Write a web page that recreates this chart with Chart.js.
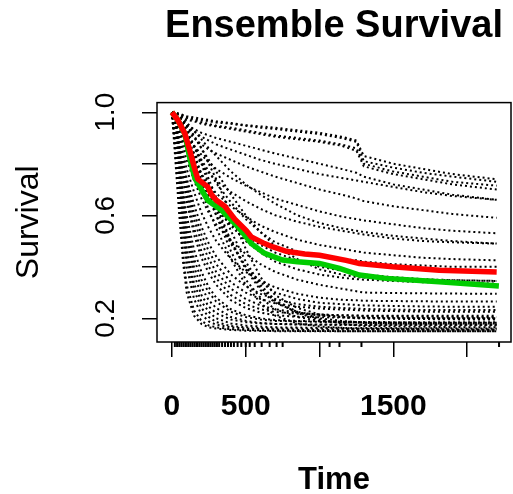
<!DOCTYPE html>
<html>
<head>
<meta charset="utf-8">
<script src="https://cdn.jsdelivr.net/npm/chart.js@4/dist/chart.umd.min.js"></script>
<style>
  html, body { margin: 0; padding: 0; background: #fff; }
  #wrap { width: 513px; height: 494px; }
</style>
</head>
<body>
<div id="wrap"><canvas id="survChart"></canvas></div>
<script>
// shared time grid for the ensemble curves
const times = [0, 25, 50, 75, 100, 150, 200, 250, 300, 400, 500, 600, 700, 850, 1000, 1150, 1250, 1300, 1500, 1700, 1900, 2200];

// individual ensemble members (dotted black)
const members = [
  [1, .995, .99, .985, .98, .975, .97, .965, .96, .955, .948, .94, .935, .925, .915, .90, .885, .81, .785, .765, .75, .73],
  [1, .99, .985, .98, .97, .965, .955, .95, .945, .935, .925, .915, .905, .895, .885, .87, .85, .79, .76, .74, .72, .70],
  [1, .99, .98, .965, .95, .935, .92, .91, .90, .885, .87, .855, .84, .82, .80, .78, .765, .75, .72, .70, .68, .66],
  [1, .985, .97, .95, .93, .90, .875, .855, .84, .815, .79, .77, .75, .725, .70, .68, .665, .655, .635, .62, .605, .59],
  [1, .98, .96, .935, .91, .87, .835, .805, .78, .745, .715, .69, .665, .64, .615, .595, .585, .58, .565, .55, .54, .53],
  [1, .975, .95, .92, .89, .84, .80, .765, .735, .69, .655, .625, .60, .575, .555, .54, .53, .525, .51, .50, .495, .49],
  [1, .97, .94, .905, .87, .81, .76, .72, .685, .635, .595, .56, .535, .505, .485, .47, .46, .455, .445, .435, .43, .425],
  [1, .965, .925, .885, .845, .775, .715, .665, .625, .565, .52, .485, .455, .425, .40, .385, .375, .37, .36, .352, .348, .345],
  [1, .96, .915, .865, .815, .735, .665, .61, .565, .50, .45, .41, .38, .35, .33, .315, .305, .30, .298, .297, .296, .295],
  [1, .955, .90, .84, .78, .69, .61, .55, .50, .43, .38, .345, .32, .295, .28, .272, .27, .268, .267, .266, .265, .265],
  [1, .95, .885, .815, .745, .64, .555, .49, .44, .37, .325, .295, .275, .255, .245, .24, .238, .236, .234, .232, .232, .232],
  [1, .94, .865, .785, .705, .585, .495, .43, .38, .315, .275, .25, .235, .222, .215, .211, .21, .209, .208, .207, .206, .205],
  [1, .93, .84, .745, .655, .525, .435, .375, .33, .27, .24, .222, .212, .206, .204, .203, .202, .202, .202, .201, .20, .20],
  [1, .92, .815, .70, .60, .465, .38, .32, .28, .235, .212, .20, .193, .19, .188, .187, .186, .186, .185, .185, .185, .185],
  [1, .905, .78, .65, .54, .40, .32, .27, .24, .205, .19, .182, .178, .176, .175, .174, .174, .174, .173, .173, .172, .172],
  [1, .885, .74, .59, .47, .335, .265, .225, .20, .18, .172, .168, .165, .164, .163, .163, .162, .162, .162, .161, .161, .16],
  [1, .86, .69, .52, .40, .275, .215, .188, .175, .165, .16, .157, .156, .155, .155, .154, .154, .154, .154, .153, .153, .153],
  [1, .83, .63, .45, .33, .23, .19, .172, .165, .158, .155, .153, .152, .151, .151, .15, .15, .15, .15, .15, .15, .15],
  [1, .99, .975, .955, .93, .87, .80, .72, .64, .50, .39, .31, .26, .225, .21, .205, .203, .202, .20, .20, .20, .20],
  [1, .985, .965, .94, .91, .84, .76, .68, .60, .46, .35, .28, .235, .205, .19, .185, .183, .182, .18, .18, .18, .18],
  [1, .98, .955, .925, .89, .815, .735, .665, .60, .49, .40, .34, .30, .275, .26, .255, .252, .25, .248, .246, .245, .245],
  [1, .99, .98, .965, .945, .905, .86, .815, .77, .68, .60, .535, .48, .43, .39, .37, .36, .358, .355, .35, .348, .345],
  [1, .975, .945, .91, .87, .78, .70, .62, .55, .43, .33, .26, .21, .18, .168, .163, .16, .16, .158, .158, .157, .157],
  [1, .995, .985, .975, .96, .93, .895, .86, .83, .77, .72, .68, .645, .60, .57, .55, .54, .535, .52, .51, .50, .49],
  [1, .80, .60, .42, .30, .21, .178, .165, .16, .155, .152, .151, .15, .15, .15, .15, .15, .15, .15, .15, .15, .15],
  [1, .87, .71, .56, .44, .31, .24, .205, .185, .17, .165, .162, .16, .16, .159, .159, .158, .158, .158, .157, .157, .157],
  [1, .895, .76, .62, .51, .37, .29, .245, .22, .195, .185, .18, .178, .177, .176, .176, .175, .175, .175, .175, .175, .175],
  [1, .91, .80, .68, .57, .43, .35, .30, .265, .225, .205, .195, .19, .188, .186, .185, .185, .184, .184, .183, .183, .183],
  [1, .935, .85, .76, .68, .55, .46, .40, .355, .29, .255, .235, .225, .218, .214, .212, .211, .21, .21, .21, .21, .21],
  [1, .945, .875, .80, .725, .61, .525, .46, .41, .34, .30, .275, .258, .245, .238, .234, .232, .23, .228, .226, .225, .225],
  [1, .97, .935, .895, .855, .785, .725, .675, .63, .56, .50, .455, .42, .39, .37, .358, .352, .35, .345, .34, .338, .335],
  [1, .98, .96, .94, .915, .865, .815, .77, .725, .65, .585, .535, .495, .46, .44, .43, .425, .42, .41, .405, .40, .40],
  [1, .998, .995, .99, .985, .98, .975, .97, .965, .958, .95, .945, .94, .93, .92, .905, .89, .83, .80, .78, .76, .74],
  [1, .995, .99, .985, .978, .97, .962, .955, .948, .94, .93, .92, .91, .90, .89, .875, .86, .80, .77, .75, .73, .715],
  [1, .99, .975, .96, .945, .925, .905, .89, .875, .855, .835, .815, .80, .78, .76, .745, .735, .73, .71, .69, .675, .66],
  [1, .995, .985, .97, .95, .91, .86, .80, .74, .60, .47, .36, .29, .24, .215, .205, .20, .20, .198, .197, .196, .195],
  [1, .99, .97, .95, .925, .87, .81, .74, .67, .54, .42, .33, .27, .225, .20, .19, .185, .183, .18, .178, .177, .176],
  [1, .985, .96, .93, .895, .83, .76, .69, .62, .50, .40, .32, .265, .22, .195, .18, .172, .17, .168, .167, .166, .165]
];

// ensemble summaries
const redTimes = [0, 40, 88, 122, 155, 176, 243, 268, 302, 358, 426, 505, 538, 628, 685, 775, 900, 1000, 1180, 1270, 1495, 1810, 2200];
const redValues = [1.0, 0.97, 0.917, 0.85, 0.78, 0.74, 0.71, 0.68, 0.658, 0.635, 0.585, 0.54, 0.516, 0.49, 0.477, 0.46, 0.45, 0.445, 0.425, 0.413, 0.40, 0.387, 0.38];
const greenTimes = [0, 40, 88, 122, 155, 200, 243, 335, 426, 470, 538, 628, 750, 850, 1000, 1135, 1270, 1450, 1810, 2215];
const greenValues = [1.0, 0.97, 0.915, 0.82, 0.745, 0.70, 0.658, 0.62, 0.568, 0.54, 0.49, 0.452, 0.426, 0.42, 0.413, 0.394, 0.368, 0.355, 0.342, 0.325];

// event times shown as a rug under the x axis
const rugTimes = [20, 35, 50, 65, 80, 95, 110, 125, 140, 155, 170, 185, 200, 215, 230, 245, 260, 275, 290, 305, 320, 340, 360, 380, 400, 420, 445, 470, 500, 527, 561, 608, 662, 709, 750, 1068, 1135, 1284, 2216];

const xTickValues = [0, 500, 1000, 1500, 2000];
const xTickLabels = ['0', '500', '', '1500', ''];
const yTickValues = [0.2, 0.4, 0.6, 0.8, 1.0];
const yTickLabels = ['0.2', '', '0.6', '', '1.0'];

const toPoints = (xs, ys) => xs.map((t, i) => ({x: t, y: ys[i]}));

const datasets = [
  {data: toPoints(redTimes, redValues), borderColor: '#ff0000', borderWidth: 5.5, order: 0},
  {data: toPoints(greenTimes, greenValues), borderColor: '#00cc00', borderWidth: 5.5, order: 0}
];
members.forEach(m => {
  datasets.push({data: toPoints(times, m), borderColor: '#000', borderWidth: 2, borderDash: [2, 3], order: 1});
});

const boxAndRug = {
  id: 'boxAndRug',
  afterDatasetsDraw(chart) {
    const {ctx, chartArea: a, scales: {x}} = chart;
    ctx.save();
    ctx.strokeStyle = '#000';
    ctx.lineWidth = 1.5;
    ctx.strokeRect(a.left, a.top, a.right - a.left, a.bottom - a.top);
    ctx.beginPath();
    ctx.lineWidth = 2;
    rugTimes.forEach(t => {
      const px = x.getPixelForValue(t);
      ctx.moveTo(px, a.bottom);
      ctx.lineTo(px, a.bottom + 5);
    });
    ctx.stroke();
    ctx.restore();
  }
};

const ctx = document.getElementById('survChart');

new Chart(ctx, {
  type: 'line',
  data: {datasets: datasets},
  plugins: [boxAndRug],
  options: {
    responsive: true,
    maintainAspectRatio: false,
    animation: false,
    events: [],
    elements: {point: {radius: 0}, line: {tension: 0, fill: false}},
    layout: {padding: {left: 0, right: 2, top: 0, bottom: 0}},
    plugins: {
      legend: {display: false},
      tooltip: {enabled: false},
      title: {
        display: true,
        fullSize: false,
        text: 'Ensemble Survival',
        color: '#000',
        font: {family: 'Liberation Sans', size: 38, weight: 'bold'},
        padding: {top: 4, bottom: 53}
      }
    },
    scales: {
      x: {
        type: 'linear',
        min: -101,
        max: 2297,
        afterBuildTicks: s => { s.ticks = xTickValues.map(v => ({value: v})); },
        afterFit: s => { s.height = 152; },
        grid: {drawOnChartArea: false, drawTicks: true, tickLength: 15, color: '#000', lineWidth: 1.5},
        border: {display: false},
        ticks: {
          autoSkip: false,
          maxRotation: 0,
          padding: 32,
          color: '#000',
          font: {family: 'Liberation Sans', size: 30, weight: 'bold'},
          callback: v => xTickLabels[xTickValues.indexOf(v)] ?? ''
        },
        title: {
          display: true,
          text: 'Time',
          color: '#000',
          font: {family: 'Liberation Sans', size: 31, weight: 'bold', lineHeight: 1},
          padding: {top: 0, bottom: -2}
        }
      },
      y: {
        type: 'linear',
        min: 0.108,
        max: 1.0375,
        afterBuildTicks: s => { s.ticks = yTickValues.map(v => ({value: v})); },
        afterFit: s => { s.width = 157; },
        grid: {drawOnChartArea: false, drawTicks: true, tickLength: 15, color: '#000', lineWidth: 1.5},
        border: {display: false},
        ticks: {
          autoSkip: false,
          minRotation: 90,
          maxRotation: 90,
          crossAlign: 'center',
          padding: 16,
          color: '#000',
          font: {family: 'Liberation Sans', size: 28},
          callback: v => yTickLabels[yTickValues.findIndex(t => Math.abs(t - v) < 1e-9)] ?? ''
        },
        title: {
          display: true,
          text: 'Survival',
          color: '#000',
          font: {family: 'Liberation Sans', size: 32, lineHeight: 1},
          padding: {top: 13, bottom: 0}
        }
      }
    }
  }
});
</script>
</body>
</html>
